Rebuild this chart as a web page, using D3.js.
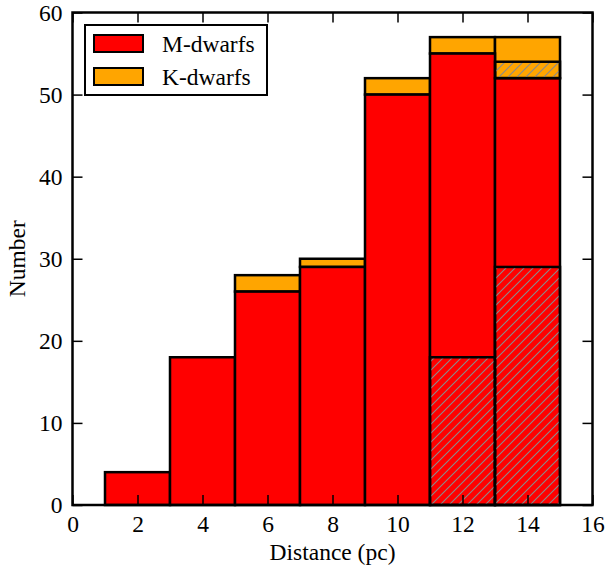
<!DOCTYPE html>
<html>
<head>
<meta charset="utf-8">
<script src="https://cdn.jsdelivr.net/npm/d3@7"></script>
<style>
body { margin: 0; background: #fff; }
</style>
</head>
<body>
<div id="chart"></div>
<script>
const width = 606
const height = 569

// histogram bins (pc)
const binEdges = [1, 3, 5, 7, 9, 11, 13, 15]
const mDwarfs = [4, 18, 26, 29, 50, 55, 52]
const kDwarfs = [0, 0, 2, 1, 2, 2, 5]
// hatched sub-samples
const mHatched = [0, 0, 0, 0, 0, 18, 29]
const kHatched = [0, 0, 0, 0, 0, 0, 2]

const xTicks = [0, 2, 4, 6, 8, 10, 12, 14, 16]
const yTicks = [0, 10, 20, 30, 40, 50, 60]
const legendItems = [{name: "M-dwarfs", color: "#ff0000"}, {name: "K-dwarfs", color: "#ffa500"}]

const margin = {left: 72.5, right: 13.5, top: 12.5, bottom: 64}
const fs = 23.5
const font = "'Liberation Serif', 'Times New Roman', serif"

const svg = d3.select("#chart")
	.append("svg")
	.attr("width", width)
	.attr("height", height)
	.attr("font-family", font)

const x = d3.scaleLinear().domain([0, 16]).range([margin.left, width - margin.right])
const y = d3.scaleLinear().domain([0, 60]).range([height - margin.bottom, margin.top])

const hatch = svg.append("defs").append("pattern")
	.attr("id", "hatch")
	.attr("patternUnits", "userSpaceOnUse")
	.attr("width", 9)
	.attr("height", 9)
hatch.append("path")
	.attr("d", "M0,9 L9,0 M-3,3 L3,-3 M6,12 L12,6")
	.attr("stroke", "#8a8a8a")
	.attr("stroke-width", 1.1)

const bins = mDwarfs.map((m, i) => ({
	x0: binEdges[i], x1: binEdges[i + 1],
	m: m, k: kDwarfs[i], mh: mHatched[i], kh: kHatched[i]
}))

const bars = svg.append("g")

const drawRect = (sel, lo, hi, fill) => {
	sel.append("rect")
		.attr("x", d => x(d.x0))
		.attr("width", d => x(d.x1) - x(d.x0))
		.attr("y", d => y(hi(d)))
		.attr("height", d => y(lo(d)) - y(hi(d)))
		.attr("fill", fill)
		.attr("stroke", "black")
		.attr("stroke-width", 2.5)
}

// K on top of M
const gk = bars.append("g").selectAll("g").data(bins.filter(d => d.k > 0)).join("g")
drawRect(gk, d => d.m, d => d.m + d.k, "#ffa500")
const gm = bars.append("g").selectAll("g").data(bins).join("g")
drawRect(gm, d => 0, d => d.m, "#ff0000")

// hatched overlays
const gmh = bars.append("g").selectAll("g").data(bins.filter(d => d.mh > 0)).join("g")
drawRect(gmh, d => 0, d => d.mh, "url(#hatch)")
const gkh = bars.append("g").selectAll("g").data(bins.filter(d => d.kh > 0)).join("g")
drawRect(gkh, d => d.m, d => d.m + d.kh, "url(#hatch)")

// axes with inward ticks
const axisStyle = g => {
	g.attr("font-family", font).attr("font-size", fs)
	g.select(".domain").remove()
	g.selectAll(".tick line").attr("stroke", "black").attr("stroke-width", 1.5)
	g.selectAll("text").attr("fill", "black")
}

svg.append("g")
	.attr("transform", `translate(0,${y(0)})`)
	.call(d3.axisBottom(x).tickValues(xTicks).tickSize(-10).tickPadding(10).tickFormat(d3.format("d")))
	.call(axisStyle)
svg.append("g")
	.attr("transform", `translate(0,${y(60)})`)
	.call(d3.axisTop(x).tickValues(xTicks).tickSize(-10).tickFormat(""))
	.call(axisStyle)
svg.append("g")
	.attr("transform", `translate(${x(0)},0)`)
	.call(d3.axisLeft(y).tickValues(yTicks).tickSize(-10).tickPadding(10).tickFormat(d3.format("d")))
	.call(axisStyle)
svg.append("g")
	.attr("transform", `translate(${x(16)},0)`)
	.call(d3.axisRight(y).tickValues(yTicks).tickSize(-10).tickFormat(""))
	.call(axisStyle)

// frame
svg.append("rect")
	.attr("x", x(0))
	.attr("y", y(60))
	.attr("width", x(16) - x(0))
	.attr("height", y(0) - y(60))
	.attr("fill", "none")
	.attr("stroke", "black")
	.attr("stroke-width", 2.5)

// axis titles
svg.append("text")
	.attr("x", (x(0) + x(16)) / 2)
	.attr("y", 560)
	.attr("text-anchor", "middle")
	.attr("font-size", fs)
	.text("Distance (pc)")

svg.append("text")
	.attr("transform", `translate(25,${(y(0) + y(60)) / 2}) rotate(-90)`)
	.attr("text-anchor", "middle")
	.attr("font-size", fs)
	.text("Number")

// legend
const legend = svg.append("g")
legend.append("rect")
	.attr("x", 85).attr("y", 25)
	.attr("width", 182).attr("height", 70)
	.attr("fill", "white")
	.attr("stroke", "black")
	.attr("stroke-width", 2)

const li = legend.selectAll("g.item").data(legendItems).join("g")
	.attr("class", "item")
	.attr("transform", (d, i) => `translate(0,${i * 33})`)
li.append("rect")
	.attr("x", 94).attr("y", 35)
	.attr("width", 49).attr("height", 17)
	.attr("fill", d => d.color)
	.attr("stroke", "black")
	.attr("stroke-width", 2)
li.append("text")
	.attr("x", 162).attr("y", 52)
	.attr("font-size", fs)
	.text(d => d.name)
</script>
</body>
</html>
